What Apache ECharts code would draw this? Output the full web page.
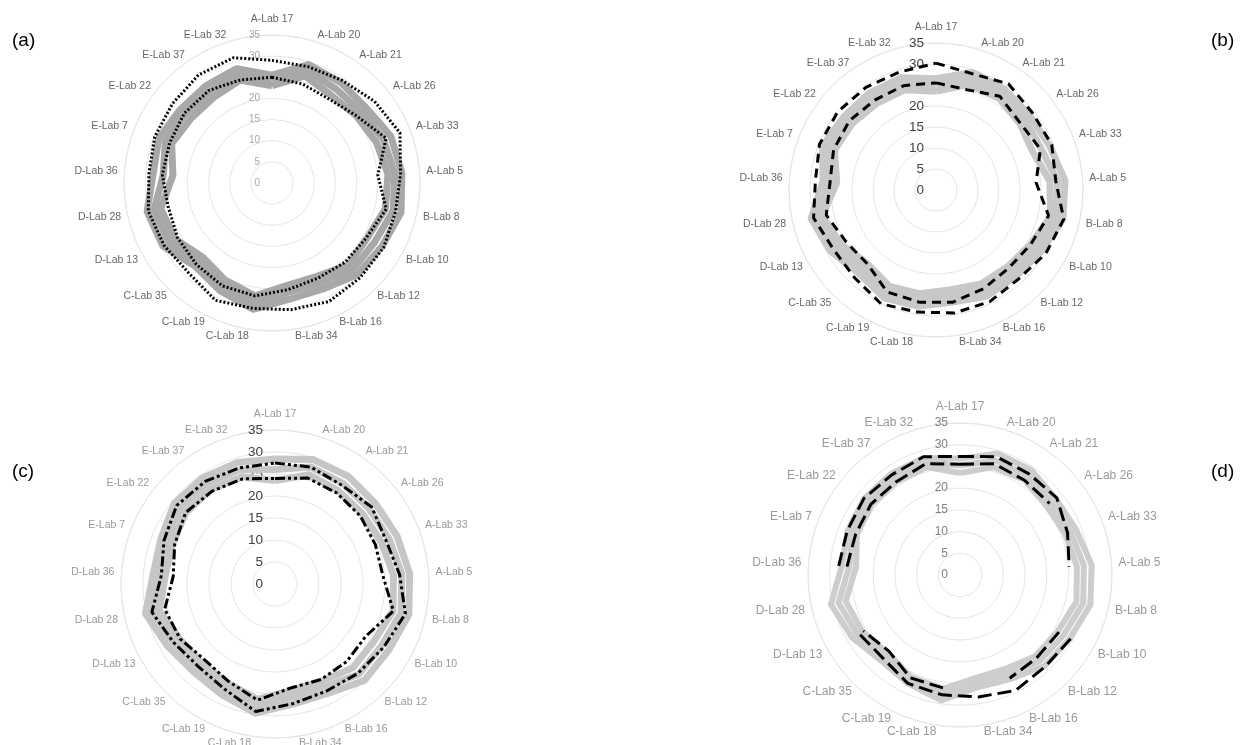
<!DOCTYPE html>
<html>
<head>
<meta charset="utf-8">
<script src="https://cdn.jsdelivr.net/npm/echarts@6/dist/echarts.min.js"></script>
<style>
  html, body { margin: 0; padding: 0; background: #fff; }
  #chart { width: 1245px; height: 745px; }
</style>
</head>
<body>
<div id="chart"></div>
<script>
// lab names, clockwise from the top
const categories = ['A-Lab 17', 'A-Lab 20', 'A-Lab 21', 'A-Lab 26', 'A-Lab 33', 'A-Lab 5',
  'B-Lab 8', 'B-Lab 10', 'B-Lab 12', 'B-Lab 16', 'B-Lab 34', 'C-Lab 18', 'C-Lab 19', 'C-Lab 35',
  'D-Lab 13', 'D-Lab 28', 'D-Lab 36', 'E-Lab 7', 'E-Lab 22', 'E-Lab 37', 'E-Lab 32'];
const radialTicks = [0, 5, 10, 15, 20, 25, 30, 35];

// (a)
const aGreyLo = [23, 26.5, 25, 25.5, 26.5, 27.5, 27.5, 26, 26.5, 24.5, 24.5, 27, 25.5, 24, 26.5, 27, 23.5, 25.5, 24.5, 24.5, 25.5];
const aGreyMid = [24.3, 27.9, 26.9, 27, 28.3, 29.1, 29.4, 28, 28, 26.2, 26.1, 28.6, 26.9, 25.4, 28.1, 28.6, 25.8, 27.1, 26.2, 26.1, 26.9];
const aGreyHi = [25.5, 29.3, 28.8, 28.5, 30.2, 30.8, 31.3, 30, 29.6, 27.8, 27.8, 30.2, 28.3, 26.8, 29.8, 30.3, 28.2, 28.8, 27.8, 27.8, 28.3];
const aOuter = [29, 28.8, 29.4, 31, 32.5, 30.5, 30, 30.5, 30.6, 31.1, 30.3, 30, 30.8, 29, 29.5, 30, 29.2, 29.8, 30.1, 30.9, 31];
const aInner = [25, 24.5, 24, 25.5, 29, 25.1, 27.7, 25.8, 25.5, 25, 25.5, 27, 27, 26.3, 25.8, 25.2, 26, 26, 26.5, 26.5, 25.5];

// (b)
const bGreyLo = [23.5, 26.3, 26.5, 25.5, 24.8, 27.2, 28, 26, 25, 24.8, 24, 25, 25.5, 24, 26, 27.8, 23.7, 26, 25.5, 25, 25];
const bGreyMid = [25, 27.8, 27.8, 27, 26.9, 29, 29.5, 27.5, 26.5, 26.4, 25.5, 26.5, 27, 25.5, 27.5, 29.2, 25.4, 27.5, 26.8, 26.5, 26.5];
const bGreyHi = [26.5, 29.3, 29, 28.5, 29, 30.8, 31, 29, 28, 28, 27, 28, 28.5, 27, 29, 30.5, 27, 29, 28, 28, 28];
const bOuter = [30.2, 29, 30.6, 29.4, 29.6, 28.6, 31.2, 30.2, 28.9, 29.5, 29.6, 29.4, 30.1, 28.5, 28.2, 29.9, 28.8, 29.8, 29.9, 29.6, 29.4];
const bInner = [25.5, 25, 27, 25.6, 26.7, 23.9, 27.5, 26, 25.4, 26.1, 27, 27, 26.9, 24, 24.7, 26.8, 25.3, 26.2, 26.4, 25.9, 26];

// (c)
const cGreyLo = [23.5, 26, 25.6, 25.5, 26, 27, 27.5, 26, 26, 24.5, 24.5, 26.5, 25, 24.5, 25, 27, 25, 25, 26, 26, 25.5];
const cGreyMid = [26, 27.8, 27.6, 27.4, 27.9, 28.9, 29.4, 28, 28, 26, 26, 28.1, 26.4, 25.8, 26.6, 28.6, 26.4, 26.4, 27.6, 27.6, 27.2];
const cGreyHi = [28.4, 29.6, 29.6, 29.2, 29.8, 30.7, 31.2, 29.9, 29.9, 27.6, 27.6, 29.7, 27.9, 27.2, 28.2, 30.2, 27.8, 27.9, 29.3, 29.2, 28.9];
const cOuter = [27.5, 27.8, 27.1, 28.1, 27.1, 28.4, 30.4, 28.6, 27.7, 27, 27.5, 29.3, 26.5, 25.6, 26.6, 28.7, 25.9, 27.1, 28.6, 28.2, 27.6];
const cInner = [24, 25.2, 25, 24.8, 24.5, 24.6, 27.6, 23.8, 24, 24.1, 23.9, 26.7, 24.5, 23.5, 24.9, 25.7, 23.2, 24.5, 26, 25.5, 25];

// (d) - gaps where the dashed lines are not drawn
const dGreyLo = [23.5, 26, 26.5, 25.5, 26, 27, 27.5, 26, 25.5, 24, 24, 26.5, 26, 24.5, 26, 27, 24, 25.5, 26, 26, 26];
const dGreyMid = [25.2, 27.6, 27.8, 26.8, 27.3, 28.6, 29.1, 27.6, 27, 25.3, 25, 27.8, 26.8, 25.6, 27.3, 28.7, 25.6, 26.6, 27, 27, 27];
const dGreyHi = [26.8, 29.3, 29.2, 28.2, 28.7, 30.4, 30.8, 29.2, 28.6, 26.6, 26.2, 29.2, 27.7, 26.8, 28.7, 30.5, 27.3, 27.8, 28.2, 28.2, 28.2];
const dOuter = [27.3, 28.5, 28.2, 28.5, 26.6, 25.2, null, 29.4, 28.8, 29.5, 28.4, 27.9, 27.7, 26.1, 26.9, null, 28, 27.9, 28.3, 27.9, 28.5];
const dInner = [25.5, 26.8, 26.4, 26.4, null, null, null, 26.3, 26, 26.4, null, 26.3, 26.3, 24, 25.7, null, 26.1, 25.8, 26.2, 26, 26.8];

const FONT = 'Liberation Sans';
const LABEL_R = 36.6;   // where the lab names sit, in axis units
const TOP_LABEL_R = 38.7;

const panels = [
  { tag: '(a)', tagPos: [12, 31], center: [272, 183], radius: 148,
    grey: [aGreyLo, aGreyMid, aGreyHi], greyColor: '#a8a8a8', greyWidth: 7,
    black: [aOuter, aInner], dash: [2, 2],
    catColor: '#404040', catSize: 10.5, tickColor: '#a6a6a6', tickSize: 10 },
  { tag: '(b)', tagPos: [1211, 31], center: [936, 190], radius: 147,
    grey: [bGreyLo, bGreyMid, bGreyHi], greyColor: '#c8c8c8', greyWidth: 7,
    black: [bOuter, bInner], dash: [9, 6],
    catColor: '#404040', catSize: 10.5, tickColor: '#404040', tickSize: 13.5 },
  { tag: '(c)', tagPos: [12, 462], center: [275, 584], radius: 154,
    grey: [cGreyLo, cGreyMid, cGreyHi], greyColor: '#c6c6c6', greyWidth: 7,
    black: [cOuter, cInner], dash: [10, 3, 3, 3, 3, 3],
    catColor: '#808080', catSize: 10.5, tickColor: '#404040', tickSize: 13.5 },
  { tag: '(d)', tagPos: [1211, 462], center: [960, 575], radius: 152,
    grey: [dGreyLo, dGreyMid, dGreyHi], greyColor: '#cdcdcd', greyWidth: 6,
    black: [dOuter, dInner], dash: [14, 6],
    catColor: '#808080', catSize: 12, tickColor: '#808080', tickSize: 12 }
];

// polar points, repeating the first lab at the end to close the ring
function ring(values) {
  const pts = values.map((v, i) => [v == null ? '-' : v, i]);
  pts.push([values[0] == null ? '-' : values[0], categories.length]);
  return pts;
}

const polar = [], angleAxis = [], radiusAxis = [], series = [], graphic = [];

panels.forEach((p, k) => {
  polar.push({ center: p.center, radius: p.radius });
  angleAxis.push({
    polarIndex: k, type: 'value', min: 0, max: categories.length, interval: 1,
    startAngle: 90, clockwise: true,
    axisLine: { lineStyle: { color: '#e6e6e6', width: 1 } },
    axisTick: { show: false },
    splitLine: { show: false },
    axisLabel: { show: false }
  });
  radiusAxis.push({
    polarIndex: k, type: 'value', min: radialTicks[0], max: radialTicks[radialTicks.length - 1], interval: 5,
    axisLine: { show: false },
    axisTick: { show: false },
    splitLine: { show: true, lineStyle: { color: '#e6e6e6', width: 1 } },
    axisLabel: { margin: 12, color: p.tickColor, fontSize: p.tickSize, fontFamily: FONT }
  });

  const greySeries = p.grey.map(vals => ({
    type: 'line', coordinateSystem: 'polar', polarIndex: k,
    data: ring(vals), symbol: 'none', silent: true,
    lineStyle: { color: p.greyColor, width: p.greyWidth, join: 'round' },
    z: 3
  }));
  const blackSeries = p.black.map(vals => ({
    type: 'line', coordinateSystem: 'polar', polarIndex: k,
    data: ring(vals), symbol: 'none', silent: true,
    lineStyle: { color: '#000', width: 3, type: p.dash },
    z: 4
  }));
  series.push(...greySeries, ...blackSeries);

  // lab names placed Excel-style: left half right-aligned, right half left-aligned
  series.push({
    type: 'scatter', coordinateSystem: 'polar', polarIndex: k, silent: true,
    clip: false, symbol: 'circle', symbolSize: 1, z: 5,
    itemStyle: { color: 'rgba(0,0,0,0)' },
    data: categories.map((c, i) => ({
      value: [i === 0 ? TOP_LABEL_R : LABEL_R, i],
      label: { align: i === 0 ? 'center' : (i <= 10 ? 'left' : 'right') }
    })),
    label: {
      show: true, position: 'inside', verticalAlign: 'middle',
      color: p.catColor, fontSize: p.catSize, fontFamily: FONT,
      formatter: d => categories[d.dataIndex]
    },
    labelLayout: { hideOverlap: false }
  });

  graphic.push({
    type: 'text', left: p.tagPos[0], top: p.tagPos[1],
    style: { text: p.tag, font: '19px "' + FONT + '"', fill: '#000' }
  });
});

const chart = echarts.init(document.getElementById('chart'));
chart.setOption({
  animation: false,
  backgroundColor: '#fff',
  polar, angleAxis, radiusAxis, series, graphic
});
</script>
</body>
</html>
